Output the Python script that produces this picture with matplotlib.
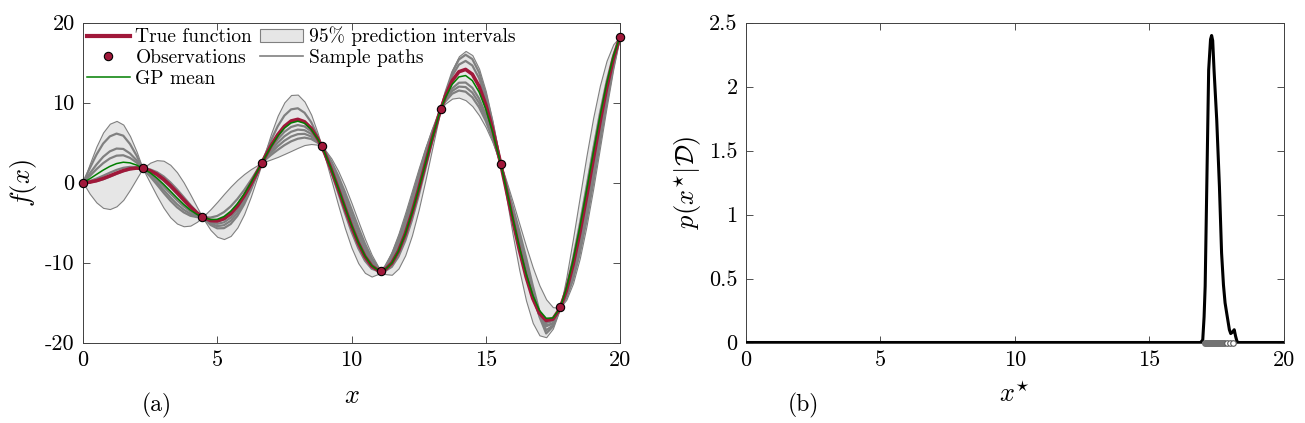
import numpy as np
import matplotlib
matplotlib.use("Agg")
from matplotlib import pyplot as plt
from matplotlib.lines import Line2D
from matplotlib.patches import Patch

plt.rcParams['font.family'] = 'serif'
plt.rcParams['font.serif'] = ['cmr10']
plt.rcParams['mathtext.fontset'] = 'cm'
plt.rcParams['axes.unicode_minus'] = False
plt.rcParams['axes.formatter.use_mathtext'] = True

# observations (10 evenly spaced points)
x_obs = [0.0, 2.222, 4.444, 6.667, 8.889, 11.111, 13.333, 15.556, 17.778, 20.0]
y_obs = [0.000, 1.767, -4.286, 2.497, 4.538, -11.037, 9.249, 2.355, -15.611, 18.258]

# values on a 0.25 grid plus the observation points (rows = one interval each)
true_f = [
    0.000,
    0.062, 0.240, 0.511, 0.841, 1.186, 1.496, 1.722, 1.819,
    1.767,
    1.751, 1.496, 1.050, 0.423, -0.352, -1.228, -2.144, -3.027, -3.804,
    -4.286,
    -4.399, -4.747, -4.795, -4.509, -3.880, -2.923, -1.676, -0.208, 1.398,
    2.497,
    3.038, 4.599, 5.970, 7.035, 7.707, 7.915, 7.611, 6.787, 5.467,
    4.538,
    3.709, 1.609, -0.713, -3.115, -5.440, -7.531, -9.237, -10.426, -11.000,
    -11.037,
    -10.889, -10.068, -8.563, -6.439, -3.812, -0.830, 2.328, 5.463, 8.371,
    9.249,
    10.849, 12.733, 13.868, 14.160, 13.556, 12.066, 9.755, 6.744, 3.201,
    2.355,
    -0.662, -4.606, -8.382, -11.743, -14.474, -16.344, -17.243, -17.073, -15.821,
    -15.611,
    -13.518, -10.298, -6.336, -1.864, 2.848, 7.504, 11.807, 15.478,
    18.258]

gp_mean = [
    0.000,
    0.47, 1.02, 1.56, 2.03, 2.38, 2.55, 2.47, 2.19,
    1.767,
    1.72, 1.23, 0.58, -0.20, -1.05, -1.91, -2.72, -3.44, -3.99,
    -4.286,
    -4.38, -4.62, -4.59, -4.24, -3.58, -2.63, -1.44, -0.04, 1.47,
    2.497,
    3.01, 4.49, 5.79, 6.81, 7.46, 7.68, 7.42, 6.66, 5.42,
    4.538,
    3.73, 1.66, -0.63, -3.02, -5.34, -7.44, -9.16, -10.38, -10.98,
    -11.037,
    -10.89, -10.07, -8.56, -6.44, -3.81, -0.83, 2.33, 5.46, 8.37,
    9.249,
    10.66, 12.29, 13.22, 13.39, 12.76, 11.34, 9.19, 6.41, 3.14,
    2.355,
    -0.55, -4.37, -8.05, -11.35, -14.07, -15.98, -16.97, -16.92, -15.80,
    -15.611,
    -13.27, -9.80, -5.66, -1.08, 3.64, 8.20, 12.33, 15.76,
    18.258]

# half width of the 95% band around the GP mean
band_half = [
    0.0,
    1.86, 3.50, 4.72, 5.34, 5.34, 4.71, 3.36, 1.67,
    0.0,
    0.13, 1.26, 2.23, 2.94, 3.28, 3.21, 2.74, 1.94, 0.90,
    0.0,
    0.24, 1.30, 2.19, 2.82, 3.09, 2.98, 2.51, 1.72, 0.72,
    0.0,
    0.41, 1.59, 2.58, 3.23, 3.50, 3.33, 2.72, 1.83, 0.68,
    0.0,
    0.44, 1.37, 2.13, 2.63, 2.80, 2.63, 2.13, 1.37, 0.44,
    0.0,
    0.55, 1.46, 2.18, 2.66, 2.80, 2.59, 2.06, 1.27, 0.33,
    0.0,
    0.75, 1.78, 2.59, 3.08, 3.19, 2.92, 2.26, 1.34, 0.25,
    0.0,
    0.95, 2.06, 2.91, 3.40, 3.48, 3.12, 2.37, 1.34, 0.14,
    0.0,
    1.39, 2.80, 3.84, 4.41, 4.45, 3.92, 2.92, 1.55,
    0.0]

# sample paths, stored as offsets from the GP mean
sample_1 = [
    0.0,
    1.31, 2.47, 3.32, 3.75, 3.75, 3.32, 2.36, 1.17,
    0.0,
    0.04, 0.42, 0.74, 0.98, 1.09, 1.07, 0.91, 0.65, 0.30,
    0.0,
    0.05, 0.25, 0.42, 0.55, 0.60, 0.58, 0.49, 0.33, 0.14,
    0.0,
    0.20, 0.77, 1.25, 1.57, 1.70, 1.62, 1.32, 0.89, 0.33,
    0.0,
    0.31, 0.98, 1.52, 1.88, 2.00, 1.88, 1.52, 0.98, 0.31,
    0.0,
    0.39, 1.04, 1.56, 1.90, 2.00, 1.85, 1.47, 0.91, 0.24,
    0.0,
    0.63, 1.50, 2.18, 2.60, 2.69, 2.46, 1.91, 1.13, 0.21,
    0.0,
    0.60, 1.40, 2.00, 2.00, 1.20, -0.10, -1.00, -0.70, -0.08,
    0.0,
    -0.31, -0.62, -0.85, -0.98, -0.99, -0.87, -0.65, -0.35,
    0.0]
sample_2 = [
    0.0,
    0.66, 1.23, 1.66, 1.88, 1.88, 1.66, 1.18, 0.59,
    0.0,
    0.02, 0.19, 0.34, 0.45, 0.50, 0.49, 0.42, 0.29, 0.14,
    0.0,
    -0.03, -0.17, -0.28, -0.36, -0.40, -0.38, -0.32, -0.22, -0.09,
    0.0,
    -0.06, -0.23, -0.37, -0.46, -0.50, -0.48, -0.39, -0.26, -0.10,
    0.0,
    0.22, 0.68, 1.06, 1.31, 1.40, 1.31, 1.06, 0.68, 0.22,
    0.0,
    0.27, 0.73, 1.09, 1.33, 1.40, 1.29, 1.03, 0.64, 0.17,
    0.0,
    0.44, 1.06, 1.54, 1.83, 1.89, 1.73, 1.34, 0.79, 0.15,
    0.0,
    0.40, 1.00, 1.40, 1.30, 0.60, -0.50, -1.50, -0.95, -0.10,
    0.0,
    -0.62, -1.24, -1.71, -1.96, -1.98, -1.74, -1.30, -0.69,
    0.0]
sample_3 = [
    0.0,
    0.35, 0.65, 0.87, 0.99, 0.99, 0.87, 0.62, 0.31,
    0.0,
    -0.01, -0.11, -0.20, -0.27, -0.30, -0.29, -0.25, -0.18, -0.08,
    0.0,
    -0.06, -0.33, -0.57, -0.73, -0.80, -0.77, -0.65, -0.44, -0.19,
    0.0,
    -0.13, -0.50, -0.81, -1.02, -1.10, -1.05, -0.86, -0.57, -0.21,
    0.0,
    0.12, 0.39, 0.61, 0.75, 0.80, 0.75, 0.61, 0.39, 0.12,
    0.0,
    0.16, 0.42, 0.62, 0.76, 0.80, 0.74, 0.59, 0.36, 0.09,
    0.0,
    -0.21, -0.50, -0.73, -0.87, -0.90, -0.82, -0.64, -0.38, -0.07,
    0.0,
    0.30, 0.70, 0.90, 0.70, 0.10, -0.80, -1.90, -1.10, -0.12,
    0.0,
    -0.93, -1.87, -2.56, -2.94, -2.96, -2.61, -1.95, -1.04,
    0.0]
sample_4 = [
    0.0,
    -0.28, -0.52, -0.70, -0.79, -0.79, -0.70, -0.50, -0.25,
    0.0,
    -0.03, -0.31, -0.54, -0.71, -0.79, -0.78, -0.66, -0.47, -0.22,
    0.0,
    -0.09, -0.50, -0.85, -1.09, -1.20, -1.15, -0.97, -0.67, -0.28,
    0.0,
    -0.20, -0.77, -1.25, -1.57, -1.70, -1.62, -1.32, -0.89, -0.33,
    0.0,
    0.05, 0.15, 0.23, 0.28, 0.30, 0.28, 0.23, 0.15, 0.05,
    0.0,
    0.04, 0.10, 0.16, 0.19, 0.20, 0.18, 0.15, 0.09, 0.02,
    0.0,
    -0.35, -0.83, -1.21, -1.44, -1.50, -1.37, -1.06, -0.63, -0.12,
    0.0,
    0.20, 0.50, 0.60, 0.40, -0.10, -0.60, -0.90, -0.70, -0.05,
    0.0,
    -1.17, -2.36, -3.24, -3.73, -3.75, -3.31, -2.47, -1.31,
    0.0]
sample_5 = [
    0.0,
    -0.45, -0.84, -1.14, -1.28, -1.28, -1.13, -0.81, -0.40,
    0.0,
    -0.05, -0.46, -0.81, -1.07, -1.19, -1.17, -1.00, -0.71, -0.33,
    0.0,
    -0.13, -0.67, -1.13, -1.46, -1.60, -1.54, -1.29, -0.89, -0.37,
    0.0,
    -0.27, -1.04, -1.70, -2.13, -2.30, -2.19, -1.79, -1.20, -0.45,
    0.0,
    -0.12, -0.39, -0.61, -0.75, -0.80, -0.75, -0.61, -0.39, -0.12,
    0.0,
    -0.18, -0.47, -0.70, -0.86, -0.90, -0.83, -0.66, -0.41, -0.11,
    0.0,
    -0.49, -1.17, -1.70, -2.02, -2.09, -1.91, -1.48, -0.88, -0.17,
    0.0,
    0.10, 0.20, 0.10, -0.20, -0.40, -0.50, -0.60, -0.40, -0.02,
    0.0,
    0.15, 0.31, 0.43, 0.49, 0.49, 0.44, 0.32, 0.17,
    0.0]

# posterior of the minimiser x*
xstar_grid = [0.0, 16.9, 16.98, 17.03, 17.07, 17.13, 17.2, 17.27, 17.31, 17.35,
              17.4, 17.5, 17.6, 17.68, 17.75, 17.81, 17.87, 17.97, 18.02, 18.08,
              18.15, 18.2, 18.25, 18.3, 20.0]
xstar_pdf = [0.0, 0.0, 0.02, 0.20, 0.44, 1.22, 2.13, 2.37, 2.40, 2.36,
             2.13, 1.74, 1.22, 0.70, 0.45, 0.31, 0.23, 0.10, 0.07, 0.08,
             0.10, 0.05, 0.01, 0.0, 0.0]
xstar_samples = [17.08, 17.12, 17.15, 17.18, 17.20, 17.22, 17.25, 17.27, 17.30,
                 17.32, 17.35, 17.38, 17.40, 17.43, 17.46, 17.50, 17.53, 17.57,
                 17.60, 17.64, 17.68, 17.72, 17.76]
xstar_samples_far = [17.87, 17.99, 18.11]

RED = '#a0183a'
GREEN = '#007f00'

x_obs = np.array(x_obs)
x_grid = np.sort(np.r_[np.arange(0, 20.001, 0.25), x_obs[1:-1]])
mean = np.array(gp_mean)
half = np.array(band_half)

fig = plt.figure(figsize=(13.05, 4.23), dpi=100)
ax1 = fig.add_axes([0.0636, 0.1903, 0.4115, 0.756])
ax2 = fig.add_axes([0.5716, 0.1903, 0.4123, 0.756])

ax1.fill_between(x_grid, mean - half, mean + half, facecolor='0.9',
                 edgecolor='0.5', lw=0.8, zorder=1)
for s in [sample_1, sample_2, sample_3, sample_4, sample_5]:
    ax1.plot(x_grid, mean + np.array(s), color='0.5', lw=1.6, zorder=2)
ax1.plot(x_grid, true_f, color=RED, lw=2.6, zorder=3)
ax1.plot(x_grid, mean, color=GREEN, lw=1.1, zorder=4)
ax1.plot(x_obs, y_obs, 'o', ms=6, mfc=RED, mec='k', mew=0.8, zorder=5, clip_on=False)

ax1.set_xlim(0, 20)
ax1.set_ylim(-20, 20)
ax1.set_xticks([0, 5, 10, 15, 20], labels=['0', '5', '10', '15', '20'])
ax1.set_yticks([-20, -10, 0, 10, 20], labels=['-20', '-10', '0', '10', '20'])
ax1.set_xlabel(r'$x$', fontsize=19, labelpad=10)
ax1.set_ylabel(r'$f(x)$', fontsize=19, labelpad=4)

handles = [Line2D([], [], color=RED, lw=3),
           Line2D([], [], marker='o', ls='none', ms=6, mfc=RED, mec='k', mew=0.8),
           Line2D([], [], color=GREEN, lw=1.1),
           Patch(facecolor='0.9', edgecolor='0.5', lw=0.8),
           Line2D([], [], color='0.5', lw=1.2)]
labels = ['True function', 'Observations', 'GP mean',
          '95% prediction intervals', 'Sample paths']
ax1.legend(handles, labels, ncol=2, loc='upper left', frameon=False, fontsize=14,
           borderaxespad=0.1, handlelength=2.2, handletextpad=0.3,
           columnspacing=0.4, labelspacing=0.15, borderpad=0.1)

ax2.plot(xstar_grid, xstar_pdf, color='k', lw=2.2, zorder=3)
ax2.plot(xstar_samples, np.zeros(len(xstar_samples)), 'o', ms=4, mfc='0.45',
         mec='0.45', zorder=4, clip_on=False)
ax2.plot(xstar_samples_far, np.zeros(len(xstar_samples_far)), 'o', ms=4, mfc='white',
         mec='0.35', mew=0.8, zorder=4, clip_on=False)
ax2.set_xlim(0, 20)
ax2.set_ylim(0, 2.5)
ax2.set_xticks([0, 5, 10, 15, 20], labels=['0', '5', '10', '15', '20'])
ax2.set_yticks([0, 0.5, 1, 1.5, 2, 2.5], labels=['0', '0.5', '1', '1.5', '2', '2.5'])
ax2.set_xlabel(r'$x^{\star}$', fontsize=19, labelpad=8)
ax2.set_ylabel(r'$p(x^{\star}|\mathcal{D})$', fontsize=19, labelpad=4)

for ax in (ax1, ax2):
    ax.tick_params(direction='in', length=5, width=0.6, top=True, right=True,
                   labelsize=16, pad=6, color='0.2')
    for sp in ax.spines.values():
        sp.set_linewidth(0.7)
        sp.set_color('0.25')

fig.text(157 / 1305, 1 - 405 / 423, '(a)', fontsize=17, ha='center', va='center')
fig.text(803 / 1305, 1 - 405 / 423, '(b)', fontsize=17, ha='center', va='center')

fig.savefig('out.png', dpi=100)
